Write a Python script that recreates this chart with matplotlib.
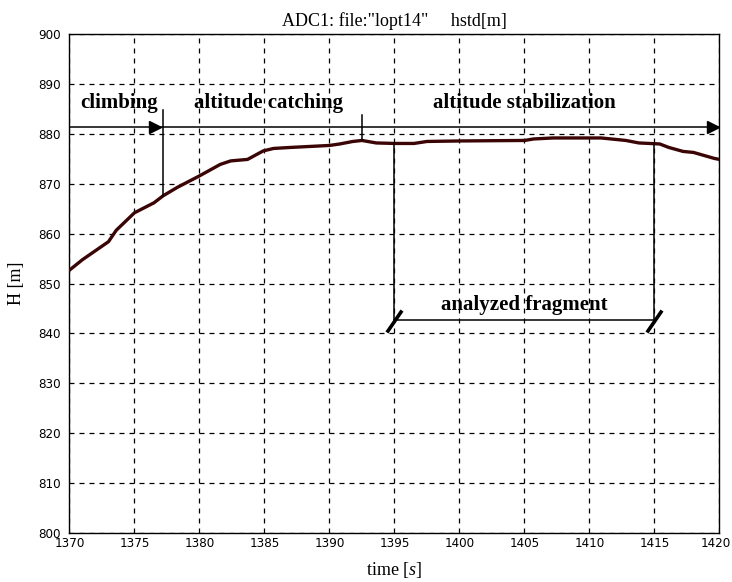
import numpy as np
import matplotlib.pyplot as plt
import matplotlib.transforms as mtransforms

plt.rcParams['mathtext.fontset'] = 'custom'
plt.rcParams['mathtext.it'] = 'Liberation Serif:italic'
plt.rcParams['mathtext.rm'] = 'Liberation Serif'

# altitude record H [m] vs time [s]
t = [1370, 1371, 1372, 1373, 1373.6, 1375, 1376.5, 1377.2, 1378.3, 1380, 1381.6,
     1382.4, 1383.7, 1384.9, 1385.7, 1387, 1390, 1390.8, 1391.8, 1392.5, 1393.6,
     1395, 1396.5, 1397.5, 1400, 1405, 1405.7, 1407.2, 1410.9, 1412.8, 1413.8,
     1415.4, 1416.1, 1417.2, 1418, 1419.6, 1420]
h = [852.7, 854.8, 856.6, 858.4, 860.7, 864.2, 866.2, 867.6, 869.3, 871.6, 873.9,
     874.6, 874.9, 876.6, 877.1, 877.3, 877.7, 878.0, 878.5, 878.7, 878.2,
     878.1, 878.1, 878.5, 878.6, 878.7, 879.0, 879.2, 879.2, 878.7, 878.2,
     878.0, 877.3, 876.5, 876.3, 875.1, 874.9]

xticks = list(range(1370, 1421, 5))
yticks = list(range(800, 901, 10))

fig = plt.figure(figsize=(7.32, 5.82), dpi=100)
ax = fig.add_axes([0.0949, 0.0842, 0.888, 0.857])

ax.plot(t, h, color='#3c0505', lw=2.4, solid_joinstyle='round', zorder=3)

ax.set_xlim(1370, 1420)
ax.set_ylim(800, 900)
ax.set_xticks(xticks)
ax.set_yticks(yticks)
ax.tick_params(axis='y', length=0, labelsize=9.5, pad=6)
ax.tick_params(axis='x', length=0, labelsize=9.5, pad=3)
for lab in ax.get_xticklabels() + ax.get_yticklabels():
    lab.set_fontstretch('condensed')
# keep the last x label inside the figure
last = ax.get_xticklabels()[-1]
last.set_transform(last.get_transform() +
                   mtransforms.ScaledTranslation(-3 / 72, 0, fig.dpi_scale_trans))
ax.grid(True, color='black', linestyle=(0, (4, 4)), lw=0.9)
for s in ax.spines.values():
    s.set_linewidth(1.0)

serif = 'Liberation Serif'
ax.set_title('ADC1: file:"lopt14"     hstd[m]', family=serif, fontsize=13, pad=6)
ax.set_xlabel('time [$s$]', family=serif, fontsize=13, labelpad=7)
ax.set_ylabel('H [m]', family=serif, fontsize=13, labelpad=10)

# phase annotations
kw = dict(color='black', lw=1.1, zorder=4)
ax.plot([1370, 1420], [881.3, 881.3], **kw)
ax.plot([1377.2, 1377.2], [884.8, 867.6], **kw)
ax.plot([1392.5, 1392.5], [883.8, 878.7], **kw)
ax.plot([1395, 1395], [878.1, 842.7], **kw)
ax.plot([1415, 1415], [878.0, 842.7], **kw)
ax.plot([1395, 1415], [842.7, 842.7], **kw)
for x in (1395, 1415):
    ax.plot([x - 0.5, x + 0.5], [840.5, 844.3], color='black', lw=2.6, zorder=4)
ax.plot([1376.6], [881.3], marker='>', color='black', ms=8, zorder=5)
ax.plot([1419.5], [881.3], marker='>', color='black', ms=8, zorder=5, clip_on=False)

tk = dict(family=serif, fontweight='bold', fontsize=15, ha='center', va='center', zorder=6)
ax.text(1373.8, 886.3, 'climbing', **tk)
ax.text(1385.3, 886.3, 'altitude catching', **tk)
ax.text(1405, 886.3, 'altitude stabilization', **tk)
ax.text(1405, 845.7, 'analyzed fragment', **tk)

plt.savefig('out.png', dpi=100)
